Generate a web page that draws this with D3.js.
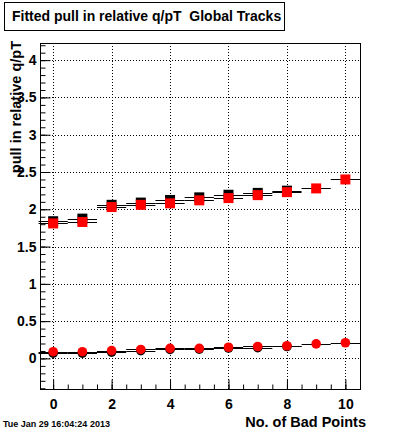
<!DOCTYPE html>
<html>
<head>
<meta charset="utf-8">
<script src="https://cdn.jsdelivr.net/npm/d3@7.9.0/dist/d3.min.js"></script>
<style>
  body { margin: 0; background: #fff; }
  svg { display: block; font-family: "Liberation Sans", Arial, sans-serif; }
</style>
</head>
<body>
<svg id="chart" width="400" height="433"></svg>
<script>
// Values
const bins = [0, 1, 2, 3, 4, 5, 6, 7, 8, 9, 10];
const upperRed = [1.81, 1.83, 2.03, 2.06, 2.08, 2.12, 2.15, 2.19, 2.23, 2.28, 2.40];
const upperBlack = [1.84, 1.875, 2.06, 2.09, 2.125, 2.16, 2.195, 2.22, 2.25];
const lowerRed = [0.09, 0.09, 0.105, 0.12, 0.135, 0.135, 0.15, 0.16, 0.17, 0.195, 0.21];
const lowerBlack = [0.07, 0.07, 0.085, 0.105, 0.12, 0.125, 0.14, 0.145, 0.16];
const xMajor = [0, 2, 4, 6, 8, 10];
const yMajor = [0, 0.5, 1, 1.5, 2, 2.5, 3, 3.5, 4];

const frame = { left: 40, right: 360, top: 43, bottom: 389 };

const svg = d3.select("#chart");

const x = d3.scaleLinear().domain([-0.45, 10.5]).range([frame.left, frame.right]);
const y = d3.scaleLinear().domain([-0.41, 4.23]).range([frame.bottom, frame.top]);

// Grid (dotted)
const grid = svg.append("g").attr("stroke", "#000").attr("stroke-dasharray", "1,2");
grid.selectAll("line.v")
    .data(xMajor)
    .enter().append("line")
    .attr("x1", d => Math.round(x(d)) + 0.5).attr("x2", d => Math.round(x(d)) + 0.5)
    .attr("y1", frame.top).attr("y2", frame.bottom);
grid.selectAll("line.h")
    .data(yMajor)
    .enter().append("line")
    .attr("y1", d => Math.round(y(d)) + 0.5).attr("y2", d => Math.round(y(d)) + 0.5)
    .attr("x1", frame.left).attr("x2", frame.right);

// Frame
svg.append("rect")
    .attr("x", frame.left + 0.5).attr("y", frame.top + 0.5)
    .attr("width", frame.right - frame.left).attr("height", frame.bottom - frame.top)
    .attr("fill", "none").attr("stroke", "#000");

// Minor ticks
const xMinor = d3.range(0, 10.51, 0.5);
const yMinor = d3.range(-0.4, 4.21, 0.1);

svg.append("g")
    .attr("transform", `translate(0,${frame.bottom + 0.5})`)
    .call(d3.axisBottom(x).tickValues(xMinor).tickSize(-5).tickFormat(""))
    .call(g => g.select(".domain").remove());
svg.append("g")
    .attr("transform", `translate(${frame.left + 0.5},0)`)
    .call(d3.axisLeft(y).tickValues(yMinor).tickSize(-5).tickFormat(""))
    .call(g => g.select(".domain").remove());

// Major ticks + labels
const xAxis = svg.append("g")
    .attr("transform", `translate(0,${frame.bottom + 0.5})`)
    .call(d3.axisBottom(x).tickValues(xMajor).tickSize(-10).tickPadding(6).tickFormat(d3.format("d")));
xAxis.select(".domain").remove();
xAxis.selectAll("text")
    .style("font-family", "Liberation Sans, Arial, sans-serif")
    .style("font-size", "14px").style("font-weight", "bold").attr("dy", "0.95em");

const yAxis = svg.append("g")
    .attr("transform", `translate(${frame.left + 0.5},0)`)
    .call(d3.axisLeft(y).tickValues(yMajor).tickSize(-10).tickPadding(4).tickFormat(d => String(d)));
yAxis.select(".domain").remove();
yAxis.selectAll("text")
    .style("font-family", "Liberation Sans, Arial, sans-serif")
    .style("font-size", "14px").style("font-weight", "bold");

// Series helpers
function errBars(vals, cls) {
    svg.append("g").attr("class", cls)
        .selectAll("line")
        .data(vals)
        .enter().append("line")
        .attr("x1", (d, i) => x(bins[i] - 0.5))
        .attr("x2", (d, i) => Math.min(x(bins[i] + 0.5), frame.right))
        .attr("y1", d => Math.round(y(d)) + 0.5)
        .attr("y2", d => Math.round(y(d)) + 0.5)
        .attr("stroke", "#000").attr("stroke-width", 1);
}
function squares(vals, color) {
    const s = 10;
    svg.append("g").selectAll("rect")
        .data(vals)
        .enter().append("rect")
        .attr("x", (d, i) => x(bins[i]) - s / 2)
        .attr("y", d => y(d) - s / 2)
        .attr("width", s).attr("height", s)
        .attr("fill", color);
}
function circles(vals, color) {
    svg.append("g").selectAll("circle")
        .data(vals)
        .enter().append("circle")
        .attr("cx", (d, i) => x(bins[i]))
        .attr("cy", d => y(d))
        .attr("r", 4.8)
        .attr("fill", color);
}

errBars(upperBlack, "eb1");
errBars(upperRed, "eb2");
errBars(lowerBlack, "eb3");
errBars(lowerRed, "eb4");
squares(upperBlack, "#000");
circles(lowerBlack, "#000");
squares(upperRed, "#ff0000");
circles(lowerRed, "#ff0000");

// Title box
svg.append("rect")
    .attr("x", 4.5).attr("y", 2.5).attr("width", 280).attr("height", 28)
    .attr("fill", "#fff").attr("stroke", "#000");
svg.append("text")
    .attr("x", 12).attr("y", 21)
    .style("font-size", "14px").style("font-weight", "bold")
    .style("white-space", "pre")
    .text("Fitted pull in relative q/pT  Global Tracks");

// Axis titles
svg.append("text")
    .attr("transform", "rotate(-90)")
    .attr("x", -41).attr("y", 21)
    .attr("text-anchor", "end")
    .style("font-size", "14.5px").style("font-weight", "bold")
    .text("pull in relative q/pT");

svg.append("text")
    .attr("x", 366).attr("y", 427)
    .attr("text-anchor", "end")
    .style("font-size", "14.5px").style("font-weight", "bold")
    .text("No. of Bad Points");

// Date stamp
svg.append("text")
    .attr("x", 3).attr("y", 427)
    .style("font-size", "9px").style("font-weight", "bold")
    .text("Tue Jan 29 16:04:24 2013");
</script>
</body>
</html>
